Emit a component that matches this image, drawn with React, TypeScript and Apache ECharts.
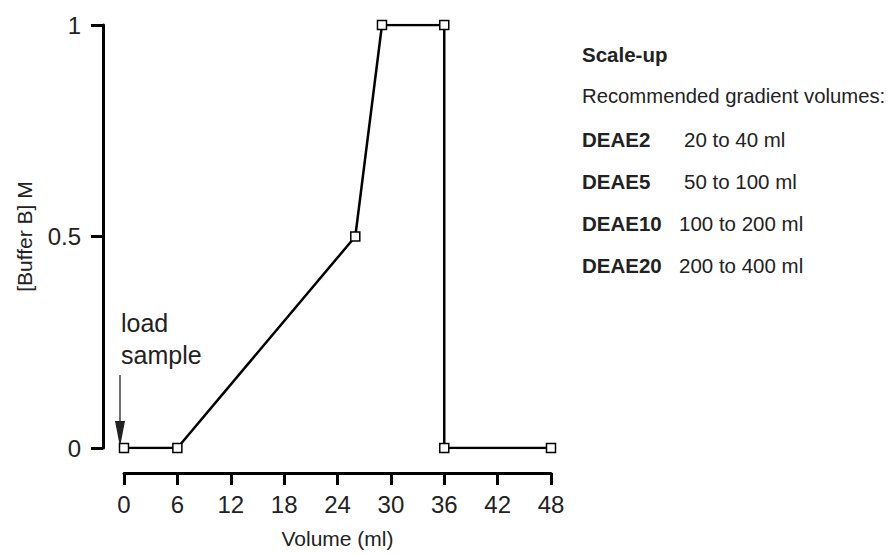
import React, { useEffect, useRef } from "react";
import * as echarts from "echarts";

const volumes = [0, 6, 26, 29, 36, 36, 48];
const bufferB = [0, 0, 0.5, 1, 1, 0, 0];
const xTicks = [0, 6, 12, 18, 24, 30, 36, 42, 48];
const yTicks = [0, 0.5, 1];
const columns = ["DEAE2", "DEAE5", "DEAE10", "DEAE20"];
const ranges = ["20 to 40 ml", "50 to 100 ml", "100 to 200 ml", "200 to 400 ml"];

const FONT = "'Liberation Sans', Arial, sans-serif";

export default function App() {
  const ref = useRef<HTMLDivElement>(null);
  useEffect(() => {
    if (!ref.current) return;
    const chart = echarts.init(ref.current, undefined, { renderer: "svg" });
    const data = volumes.map((v, i) => [v, bufferB[i]]);
    const rangeX = [684, 684, 679, 679];
    const graphics: any[] = [
      { type: "text", left: 582, top: 44, style: { text: "Scale-up", font: `bold 20.5px ${FONT}`, fill: "#222" } },
      { type: "text", left: 582, top: 86, style: { text: "Recommended gradient volumes:", font: `20.3px ${FONT}`, fill: "#222" } },
      { type: "text", left: 121, top: 310, style: { text: "load", font: `25px ${FONT}`, fill: "#222" } },
      { type: "text", left: 121, top: 342, style: { text: "sample", font: `25px ${FONT}`, fill: "#222" } },
      { type: "line", shape: { x1: 120, y1: 375, x2: 120, y2: 430 }, style: { stroke: "#222", lineWidth: 1.3 } },
      { type: "polygon", shape: { points: [[115, 421], [125, 421], [120, 447]] }, style: { fill: "#222" } },
    ];
    columns.forEach((c, i) => {
      graphics.push({ type: "text", left: 582, top: 129 + i * 42, style: { text: c, font: `bold 20.5px ${FONT}`, fill: "#222" } });
      graphics.push({ type: "text", left: rangeX[i], top: 129 + i * 42, style: { text: ranges[i], font: `20.5px ${FONT}`, fill: "#222" } });
    });
    chart.setOption({
      animation: false,
      backgroundColor: "#fff",
      grid: { left: 124, right: 343, top: 25, bottom: 104, containLabel: false },
      xAxis: {
        type: "value",
        min: 0,
        max: 48,
        interval: 6,
        offset: 25,
        name: "Volume (ml)",
        nameLocation: "middle",
        nameGap: 55,
        nameTextStyle: { fontFamily: FONT, fontSize: 21, color: "#222" },
        axisLine: { show: true, onZero: false, lineStyle: { color: "#000", width: 3 } },
        axisTick: { show: true, length: 12, lineStyle: { color: "#000", width: 3 } },
        axisLabel: {
          fontFamily: FONT,
          fontSize: 24,
          color: "#222",
          margin: 19,
          formatter: (v: number) => (xTicks.includes(v) ? String(v) : ""),
        },
        splitLine: { show: false },
      },
      yAxis: {
        type: "value",
        min: 0,
        max: 1,
        interval: 0.5,
        offset: 21,
        name: "[Buffer B] M",
        nameLocation: "middle",
        nameGap: 68,
        nameRotate: 90,
        nameTextStyle: { fontFamily: FONT, fontSize: 21, color: "#222" },
        axisLine: { show: true, onZero: false, lineStyle: { color: "#000", width: 3 } },
        axisTick: { show: true, length: 12, lineStyle: { color: "#000", width: 3 } },
        axisLabel: {
          fontFamily: FONT,
          fontSize: 24,
          color: "#222",
          margin: 22,
          formatter: (v: number) => (yTicks.includes(v) ? String(v) : ""),
        },
        splitLine: { show: false },
      },
      series: [
        {
          type: "line",
          data,
          symbol: "rect",
          symbolSize: 9,
          showAllSymbol: true,
          lineStyle: { color: "#000", width: 2.5 },
          itemStyle: { color: "#fff", borderColor: "#000", borderWidth: 1.5 },
          z: 3,
        },
      ],
      graphic: graphics,
    });
    return () => chart.dispose();
  }, []);
  return <div ref={ref} style={{ position: "absolute", left: 0, top: 0, width: 894, height: 554 }} />;
}
